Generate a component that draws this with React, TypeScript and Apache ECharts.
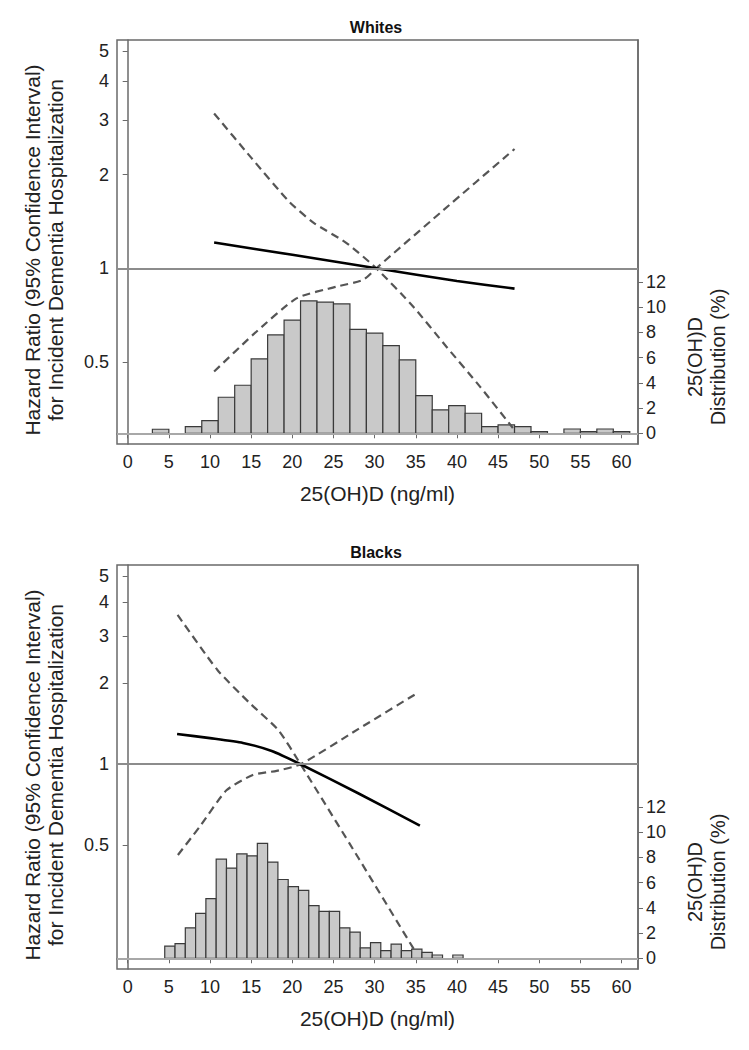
import React, { useEffect, useRef } from "react";
import * as echarts from "echarts";

const xTicks = [0, 5, 10, 15, 20, 25, 30, 35, 40, 45, 50, 55, 60];
const hrTicks = [0.5, 1, 2, 3, 4, 5];
const distTicks = [0, 2, 4, 6, 8, 10, 12];

const xTitle = "25(OH)D (ng/ml)";
const leftTitle = "Hazard Ratio (95% Confidence Interval)\nfor Incident Dementia Hospitalization";
const rightTitle = "25(OH)D\nDistribution (%)";

// Whites panel
const whitesBinCenters = [4, 8, 10, 12, 14, 16, 18, 20, 22, 24, 26, 28, 30, 32, 34, 36, 38, 40, 42, 44, 46, 48, 50, 54, 56, 58, 60];
const whitesBinPct = [0.32, 0.53, 1.0, 2.86, 3.81, 5.9, 7.8, 8.97, 10.5, 10.4, 10.26, 8.25, 7.94, 6.96, 5.82, 2.99, 1.85, 2.2, 1.59, 0.53, 0.66, 0.53, 0.13, 0.34, 0.13, 0.34, 0.13];
const whitesBinWidth = 2;
const whitesHrX = [10.5, 20, 30.2, 40, 47];
const whitesHr = [1.21, 1.105, 1.0, 0.91, 0.86];
const whitesUpperX = [10.5, 15, 19.6, 22.6, 26.5, 30.2, 34.7, 38.7, 42.8, 46.8];
const whitesUpper = [3.15, 2.27, 1.64, 1.4, 1.21, 1.0, 0.752, 0.56, 0.416, 0.306];
const whitesLowerX = [10.5, 15.2, 20.5, 25.4, 28.6, 30.2, 38, 47];
const whitesLower = [0.465, 0.61, 0.8, 0.873, 0.917, 1.0, 1.51, 2.42];

// Blacks panel
const blacksBinCenters = [5.125, 6.375, 7.625, 8.875, 10.125, 11.375, 12.625, 13.875, 15.125, 16.375, 17.625, 18.875, 20.125, 21.375, 22.625, 23.875, 25.125, 26.375, 27.625, 28.875, 30.125, 31.375, 32.625, 33.875, 35.125, 36.375, 37.625, 40.125];
const blacksBinPct = [0.96, 1.17, 2.42, 3.57, 4.74, 7.86, 7.16, 8.28, 8.13, 9.11, 7.63, 6.25, 5.68, 5.39, 4.17, 3.72, 3.72, 2.42, 2.08, 0.83, 1.25, 0.6, 1.12, 0.6, 0.73, 0.47, 0.26, 0.26];
const blacksBinWidth = 1.25;
const blacksHrX = [6, 10, 14, 17.5, 21, 28, 35.5];
const blacksHr = [1.296, 1.25, 1.2, 1.12, 1.0, 0.78, 0.591];
const blacksUpperX = [6.06, 10.9, 14.8, 18.3, 21, 28, 35];
const blacksUpperY = [3.59, 2.24, 1.69, 1.34, 1.0, 0.45, 0.2];
const blacksLowerX = [6.1, 8.75, 12.0, 15.2, 18.1, 21, 28, 35.2];
const blacksLower = [0.46, 0.586, 0.8, 0.912, 0.945, 1.0, 1.35, 1.84];

const FONT = "'Liberation Sans', Arial, Helvetica, sans-serif";
const GRID_LEFT = 117;
const GRID_WIDTH = 521;
const GRID_HEIGHT = 404;

function zip(xs: number[], ys: number[]) {
  return xs.map((x, i) => [x, ys[i]]);
}

export default function App() {
  const ref = useRef<HTMLDivElement>(null);

  useEffect(() => {
    if (!ref.current) return;
    const chart = echarts.init(ref.current, undefined, { renderer: "svg" });

    const panels = [
      {
        top: 40,
        title: "Whites",
        hrMin: 0.2718,
        hrMax: 5.43,
        bins: zip(whitesBinCenters, whitesBinPct),
        binWidth: whitesBinWidth,
        hr: zip(whitesHrX, whitesHr),
        upper: zip(whitesUpperX, whitesUpper),
        lower: zip(whitesLowerX, whitesLower),
      },
      {
        top: 565,
        title: "Blacks",
        hrMin: 0.1734,
        hrMax: 5.5,
        bins: zip(blacksBinCenters, blacksBinPct),
        binWidth: blacksBinWidth,
        hr: zip(blacksHrX, blacksHr),
        upper: zip(blacksUpperX, blacksUpperY),
        lower: zip(blacksLowerX, blacksLower),
      },
    ];

    const grid: any[] = [];
    const xAxis: any[] = [];
    const yAxis: any[] = [];
    const series: any[] = [];
    const graphic: any[] = [];

    const axisColor = "#6a6a6a";
    const labelColor = "#222";

    panels.forEach((p, i) => {
      grid.push({
        left: GRID_LEFT,
        top: p.top,
        width: GRID_WIDTH,
        height: GRID_HEIGHT,
        show: true,
        borderColor: axisColor,
        borderWidth: 1.5,
        backgroundColor: "transparent",
      });
      xAxis.push({
        gridIndex: i,
        type: "value",
        min: -1.3,
        max: 62,
        axisLine: { show: true, lineStyle: { color: axisColor, width: 1.5 } },
        axisTick: { show: true, customValues: xTicks, length: 5, lineStyle: { color: axisColor } },
        axisLabel: { customValues: xTicks, fontSize: 18, color: labelColor, fontFamily: FONT, margin: 9 },
        splitLine: { show: false },
        name: xTitle,
        nameLocation: "middle",
        nameGap: 39,
        nameTextStyle: { fontSize: 21, color: labelColor, fontFamily: FONT },
      });
      yAxis.push({
        gridIndex: i,
        type: "log",
        logBase: 10,
        min: p.hrMin,
        max: p.hrMax,
        axisLine: { show: true, lineStyle: { color: axisColor, width: 1.5 } },
        axisTick: { show: true, customValues: hrTicks, length: 5, lineStyle: { color: axisColor } },
        axisLabel: {
          customValues: hrTicks,
          fontSize: 18,
          color: labelColor,
          fontFamily: FONT,
          margin: 8,
          formatter: (v: number) => String(v),
        },
        splitLine: { show: false },
      });
      yAxis.push({
        gridIndex: i,
        type: "value",
        position: "right",
        min: -0.85,
        max: 31.2,
        axisLine: { show: true, lineStyle: { color: axisColor, width: 1.5 } },
        axisTick: { show: true, customValues: distTicks, length: 5, lineStyle: { color: axisColor } },
        axisLabel: { customValues: distTicks, fontSize: 18, color: labelColor, fontFamily: FONT, margin: 8 },
        splitLine: { show: false },
      });
      const yHr = i * 2;
      const yDist = i * 2 + 1;
      const w = p.binWidth;

      // reference lines
      series.push({
        type: "line",
        xAxisIndex: i,
        yAxisIndex: yDist,
        data: [],
        z: 1,
        markLine: {
          silent: true,
          symbol: "none",
          label: { show: false },
          lineStyle: { color: "#a8a8a8", width: 2.2, type: "solid" },
          data: [{ yAxis: 0 }],
        },
      });
      series.push({
        type: "line",
        xAxisIndex: i,
        yAxisIndex: yHr,
        data: [],
        z: 1,
        markLine: {
          silent: true,
          symbol: "none",
          label: { show: false },
          lineStyle: { color: "#8c8c8c", width: 1.8, type: "solid" },
          data: [{ yAxis: 1 }],
        },
      });
      // histogram
      series.push({
        type: "custom",
        xAxisIndex: i,
        yAxisIndex: yDist,
        z: 2,
        data: p.bins,
        renderItem: (_params: any, api: any) => {
          const c = api.value(0);
          const v = api.value(1);
          const p0 = api.coord([c - w / 2, v]);
          const p1 = api.coord([c + w / 2, 0]);
          return {
            type: "rect",
            shape: { x: p0[0], y: p0[1], width: p1[0] - p0[0], height: p1[1] - p0[1] },
            style: { fill: "#c9c9c9", stroke: "#3a3a3a", lineWidth: 1.2 },
          };
        },
      });
      // CI lines
      [p.upper, p.lower].forEach((d) => {
        series.push({
          type: "line",
          xAxisIndex: i,
          yAxisIndex: yHr,
          data: d,
          z: 3,
          smooth: 0.2,
          symbol: "none",
          lineStyle: { color: "#555", width: 2.2, type: [8, 5] },
        });
      });
      series.push({
        type: "line",
        xAxisIndex: i,
        yAxisIndex: yHr,
        data: p.hr,
        z: 4,
        smooth: 0.2,
        symbol: "none",
        lineStyle: { color: "#000", width: 2.6 },
      });

      const off = p.top - 40;
      graphic.push({
        type: "text",
        x: 376,
        y: 27 + off,
        style: { text: p.title, fontSize: 16, fontWeight: "bold", fontFamily: FONT, fill: "#111", align: "center", verticalAlign: "middle" },
      });
      graphic.push({
        type: "text",
        x: 44,
        y: 250 + off,
        rotation: Math.PI / 2,
        style: { text: leftTitle, fontSize: 21, fontFamily: FONT, fill: labelColor, align: "center", verticalAlign: "middle", lineHeight: 23 },
      });
      graphic.push({
        type: "text",
        x: 706,
        y: 357 + off,
        rotation: Math.PI / 2,
        style: { text: rightTitle, fontSize: 20, fontFamily: FONT, fill: labelColor, align: "center", verticalAlign: "middle", lineHeight: 23 },
      });
    });

    chart.setOption({
      animation: false,
      backgroundColor: "#fff",
      grid,
      xAxis,
      yAxis,
      series,
      graphic,
    });

    return () => chart.dispose();
  }, []);

  return <div ref={ref} style={{ position: "absolute", left: 0, top: 0, width: 749, height: 1050 }} />;
}
